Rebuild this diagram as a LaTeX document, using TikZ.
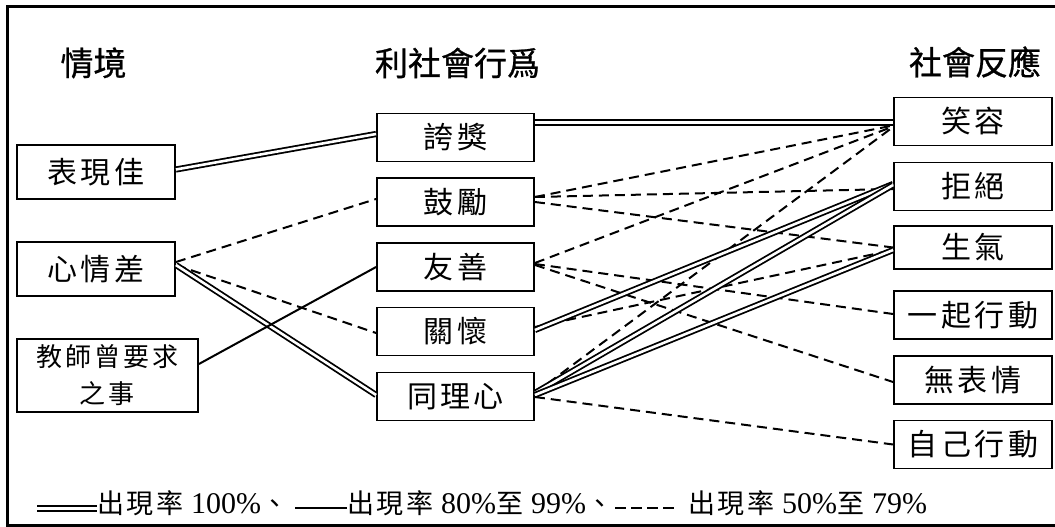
\documentclass[tikz,border=0pt]{standalone}
\usepackage{fontspec}
\setmainfont{Liberation Serif}
\newfontfamily\cjk{Noto Sans CJK TC}
\newfontfamily\cjkb[FakeBold=0.8]{Noto Sans CJK TC}
\usetikzlibrary{calc}
\newlength\lsp
\def\spaced#1{\spacedA#1\relax}
\def\spacedA#1#2{#1\ifx#2\relax\else\kern\lsp\expandafter\spacedA\expandafter#2\fi}
\newcommand\spc[2]{{\setlength\lsp{#1}\spaced{#2}}}
\newcommand\bt[1]{\spc{3.5pt}{#1}}
\newcommand\cj[1]{{\cjk\fontsize{27}{30}\selectfont\spc{2.5pt}{#1}}}
\tikzset{
  boxbase/.style={draw, line width=1.8pt, inner sep=0pt, fill=white},
  lbox/.style={boxbase, minimum width=158pt, minimum height=54pt, font=\cjk\fontsize{30}{34}\selectfont},
  mbox/.style={boxbase, minimum width=157pt, minimum height=48pt, font=\cjk\fontsize{30}{34}\selectfont},
  rbox/.style={boxbase, minimum width=158pt, minimum height=48pt, font=\cjk\fontsize{30}{34}\selectfont},
  title/.style={inner sep=0pt, font=\cjkb\fontsize{33}{36}\selectfont},
  leg/.style={inner sep=0pt, anchor=base west, font=\fontsize{30}{34}\selectfont},
  dbl/.style={double, line width=1.8pt, double distance=2.6pt},
  sol/.style={line width=2pt},
  dsh/.style={line width=2pt, dash pattern=on 10pt off 6pt},
}
\begin{document}
\begin{tikzpicture}[x=1pt,y=-1pt]
\useasboundingbox (0,0) rectangle (1055,527);
\draw[line width=3pt] (1060,6.5) -- (7.5,6.5) -- (7.5,525.5) -- (1060,525.5);

% titles
\node[title] (h1) at (93.5,63) {情境};
\node[title] (h2) at (457.5,63) {利社會行爲};
\node[title] (h3) at (975,62) {社會反應};

% situation boxes
\node[lbox] (s1) at (96,172) {\bt{表現佳}};
\node[lbox] (s2) at (96,269) {\bt{心情差}};
\node[boxbase, minimum width=181pt, minimum height=73pt, align=center,
      font=\cjk\fontsize{26}{37}\selectfont] (s3) at (107.5,375.5)
      {\spc{3pt}{教師曾要求}\\\spc{3pt}{之事}};

% prosocial behaviours
\node[mbox] (m1) at (455.5,137.5) {\bt{誇獎}};
\node[mbox] (m2) at (455.5,202) {\bt{鼓勵}};
\node[mbox] (m3) at (455.5,267) {\bt{友善}};
\node[mbox] (m4) at (455.5,331.5) {\bt{關懷}};
\node[mbox] (m5) at (455.5,396.5) {\bt{同理心}};

% social responses
\node[rbox] (r1) at (973,121.5) {\bt{笑容}};
\node[rbox] (r2) at (973,186.5) {\bt{拒絕}};
\node[rbox, minimum height=43pt] (r3) at (973,247.5) {\bt{生氣}};
\node[rbox] (r4) at (973,315) {\bt{一起行動}};
\node[rbox] (r5) at (973,380) {\bt{無表情}};
\node[rbox] (r6) at (973,444.5) {\bt{自己行動}};

% left -> middle
\draw[dbl] ($(s1.east)+(0,-2.5)$) -- ($(m1.west)+(0,-3.5)$);
\draw[dsh] ($(s2.east)+(0,-7)$) -- ($(m2.west)+(0,-3)$);
\draw[dsh] ($(s2.east)+(0,-4)$) -- ($(m4.west)+(0,1.5)$);
\draw[dbl] ($(s2.east)+(0,-4)$) -- ($(m5.west)+(0,-1.5)$);
\draw[sol] ($(s3.east)+(0,-11.5)$) -- (m3.west);

% middle -> right
\draw[dbl] ($(m1.east)+(0,-15)$) -- ($(r1.west)+(0,1)$);
\draw[dsh] ($(m2.east)+(0,-5)$) -- ($(r1.west)+(0,4)$);
\draw[dsh] ($(m2.east)+(0,-5)$) -- ($(r2.west)+(0,2.5)$);
\draw[dsh] ($(m2.east)+(0,0)$) -- ($(r3.west)+(0,0)$);
\draw[dsh] ($(m3.east)+(0,-4)$) -- ($(r1.west)+(0,5)$);
\draw[dsh] ($(m3.east)+(0,-3)$) -- ($(r4.west)+(0,-1)$);
\draw[dsh] ($(m3.east)+(0,-2)$) -- ($(r5.west)+(0,2)$);
\draw[dsh] ($(m4.east)+(0,-4.5)$) -- ($(r3.west)+(0,2.5)$);
\draw[dsh] ($(m5.east)+(0,-3.5)$) -- ($(r1.west)+(0,5.5)$);
\draw[dbl] ($(m4.east)+(0,-1.5)$) -- ($(r2.west)+(0,-2.5)$);
\draw[dbl] ($(m5.east)+(0,-3.5)$) -- ($(r2.west)+(0,-1.5)$);
\draw[dbl] ($(m5.east)+(0,-1.5)$) -- ($(r3.west)+(0,2.5)$);
\draw[dsh] ($(m5.east)+(0,0.5)$) -- ($(r6.west)+(0,0)$);

% legend
\coordinate (la) at (37,508.5);
\coordinate (lb) at (97,508.5);
\coordinate (lc) at (295,508);
\coordinate (ld) at (347,508);
\coordinate (le) at (615,508);
\coordinate (lf) at (677,508);
\draw[dbl] (la) -- (lb);
\node[leg] (t1) at ($(lb)+(0,4.5)$) {\cj{出現率}\hspace{8pt}100\%\cj{、}};
\draw[sol] (lc) -- (ld);
\node[leg] (t2) at ($(ld)+(0,5)$) {\cj{出現率}\hspace{8pt}80\%\cj{至}\hspace{8pt}99\%\cj{、}};
\draw[line width=2pt, dash pattern=on 11pt off 5pt] (le) -- (lf);
\node[leg] (t3) at (688,513) {\cj{出現率}\hspace{8pt}50\%\cj{至}\hspace{8pt}79\%};
\end{tikzpicture}
\end{document}
